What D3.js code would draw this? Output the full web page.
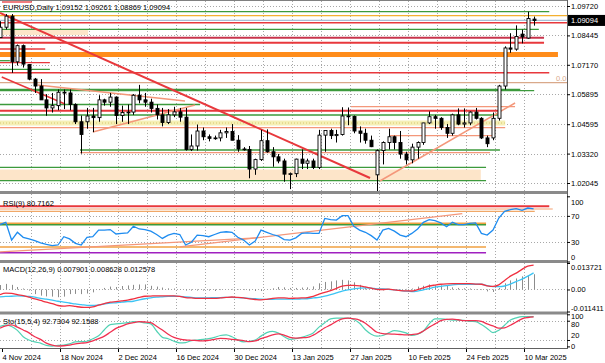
<!DOCTYPE html>
<html>
<head>
<meta charset="utf-8">
<script src="https://cdn.jsdelivr.net/npm/d3@7"></script>
<style>
  body { margin: 0; background: #fff; }
  text { font-family: "Liberation Sans", Arial, sans-serif; font-size: 7.5px; fill: #000; }
</style>
</head>
<body>
<div id="chart"></div>
<script>
// ---- data ----
const dates = ("2024-11-04 2024-11-05 2024-11-06 2024-11-07 2024-11-08 2024-11-11 2024-11-12 2024-11-13 2024-11-14 2024-11-15 " +
  "2024-11-18 2024-11-19 2024-11-20 2024-11-21 2024-11-22 2024-11-25 2024-11-26 2024-11-27 2024-11-28 2024-11-29 " +
  "2024-12-02 2024-12-03 2024-12-04 2024-12-05 2024-12-06 2024-12-09 2024-12-10 2024-12-11 2024-12-12 2024-12-13 " +
  "2024-12-16 2024-12-17 2024-12-18 2024-12-19 2024-12-20 2024-12-23 2024-12-24 2024-12-25 2024-12-26 2024-12-27 " +
  "2024-12-30 2024-12-31 2025-01-01 2025-01-02 2025-01-03 2025-01-06 2025-01-07 2025-01-08 2025-01-09 2025-01-10 " +
  "2025-01-13 2025-01-14 2025-01-15 2025-01-16 2025-01-17 2025-01-20 2025-01-21 2025-01-22 2025-01-23 2025-01-24 " +
  "2025-01-27 2025-01-28 2025-01-29 2025-01-30 2025-01-31 2025-02-03 2025-02-04 2025-02-05 2025-02-06 2025-02-07 " +
  "2025-02-10 2025-02-11 2025-02-12 2025-02-13 2025-02-14 2025-02-17 2025-02-18 2025-02-19 2025-02-20 2025-02-21 " +
  "2025-02-24 2025-02-25 2025-02-26 2025-02-27 2025-02-28 2025-03-03 2025-03-04 2025-03-05 2025-03-06 2025-03-07 " +
  "2025-03-10 2025-03-11 2025-03-12").split(" ");

const opens = [1.0835,1.0880,1.0928,1.0730,1.0800, 1.0718,1.0655,1.0625,1.0565,1.0530, 1.0540,1.0598,1.0595,1.0545,1.0470,
  1.0470,1.0495,1.0488,1.0565,1.0555, 1.0577,1.0497,1.0510,1.0512,1.0585, 1.0565,1.0555,1.0528,1.0500,1.0467,
  1.0500,1.0513,1.0490,1.0350,1.0365, 1.0430,1.0405,1.0398,1.0400,1.0422, 1.0428,1.0390,1.0352,1.0350,1.0265,
  1.0306,1.0388,1.0340,1.0318,1.0300, 1.0243,1.0245,1.0308,1.0290,1.0300, 1.0272,1.0412,1.0432,1.0410,1.0415,
  1.0495,1.0493,1.0430,1.0420,1.0390, 1.0240,1.0345,1.0380,1.0405,1.0380, 1.0330,1.0305,1.0360,1.0380,1.0465,
  1.0492,1.0485,1.0445,1.0420,1.0500, 1.0460,1.0465,1.0512,1.0485,1.0400, 1.0400,1.0485,1.0625,1.0790,1.0785,
  1.0850,1.0833,1.09152];
const highs = [1.0906,1.0937,1.0937,1.0805,1.0805, 1.0720,1.0660,1.0655,1.0590,1.0595, 1.0610,1.0610,1.0610,1.0550,1.0497,
  1.0530,1.0530,1.0585,1.0570,1.0595, 1.0580,1.0540,1.0545,1.0590,1.0630, 1.0595,1.0570,1.0545,1.0530,1.0525,
  1.0535,1.0530,1.0530,1.0415,1.0458, 1.0445,1.0415,1.0410,1.0435,1.0445, 1.0460,1.0412,1.0360,1.0365,1.0310,
  1.0435,1.0437,1.0360,1.0330,1.0310, 1.0250,1.0310,1.0350,1.0310,1.0310, 1.0435,1.0430,1.0440,1.0435,1.0533,
  1.0532,1.0497,1.0450,1.0440,1.0410, 1.0350,1.0385,1.0440,1.0410,1.0430, 1.0340,1.0375,1.0385,1.0465,1.0515,
  1.0500,1.0490,1.0460,1.0505,1.0528, 1.0528,1.0515,1.0530,1.0490,1.0410, 1.0510,1.0630,1.0797,1.0854,1.0888,
  1.0870,1.0947,1.09261];
const lows = [1.0835,1.0870,1.0682,1.0714,1.0705, 1.0650,1.0595,1.0565,1.0496,1.0510, 1.0520,1.0525,1.0520,1.0460,1.0332,
  1.0440,1.0425,1.0470,1.0540,1.0535, 1.0460,1.0470,1.0460,1.0500,1.0550, 1.0535,1.0510,1.0480,1.0450,1.0460,
  1.0490,1.0470,1.0345,1.0343,1.0345, 1.0390,1.0385,1.0392,1.0385,1.0400, 1.0390,1.0340,1.0345,1.0225,1.0240,
  1.0300,1.0336,1.0275,1.0290,1.0210, 1.0178,1.0230,1.0265,1.0265,1.0265, 1.0265,1.0340,1.0395,1.0380,1.0410,
  1.0455,1.0420,1.0380,1.0375,1.0360, 1.0141,1.0285,1.0350,1.0350,1.0310, 1.0285,1.0290,1.0310,1.0370,1.0460,
  1.0440,1.0435,1.0400,1.0410,1.0455, 1.0445,1.0455,1.0480,1.0395,1.0360, 1.0390,1.0475,1.0610,1.0769,1.0778,
  1.0810,1.0830,1.08869];
const closes = [1.0880,1.0928,1.0730,1.0800,1.0720, 1.0655,1.0625,1.0565,1.0530,1.0540, 1.0598,1.0595,1.0545,1.0470,1.0415,
  1.0495,1.0488,1.0565,1.0555,1.0577, 1.0497,1.0510,1.0512,1.0585,1.0565, 1.0555,1.0528,1.0500,1.0467,1.0500,
  1.0513,1.0490,1.0350,1.0365,1.0430, 1.0405,1.0398,1.0400,1.0422,1.0428, 1.0390,1.0352,1.0350,1.0265,1.0306,
  1.0388,1.0340,1.0318,1.0300,1.0243, 1.0245,1.0308,1.0290,1.0300,1.0272, 1.0412,1.0432,1.0410,1.0415,1.0495,
  1.0493,1.0430,1.0420,1.0390,1.0362, 1.0345,1.0380,1.0405,1.0380,1.0330, 1.0305,1.0360,1.0380,1.0465,1.0492,
  1.0485,1.0445,1.0420,1.0500,1.0460, 1.0465,1.0512,1.0485,1.0400,1.0375, 1.0485,1.0625,1.0790,1.0785,1.0840,
  1.0838,1.0918,1.09094];

const rsi = [56.7,60.1,32.9,44.8,37.1, 34.6,32.1,28.6,26.1,24.4, 25.3,38.0,34.6,27.8,25.3, 37.1,38.0,48.2,48.2,49.0,
  42.2,43.1,43.9,54.1,49.9, 49.0,46.5,41.4,35.4,40.5, 43.1,41.4,25.3,29.5,40.5, 39.7,38.0,41.4,44.8,45.6,
  44.8,37.1,32.9,25.3,31.2, 48.2,44.8,41.4,38.8,33.7, 32.9,36.3,43.1,43.9,43.1, 43.1,66.0,64.3,63.5,70.3,
  70.3,54.1,48.2,44.8,39.7, 32.9,48.2,50.7,46.5,40.5, 38.0,43.1,49.9,60.1,64.3, 62.6,59.2,53.3,60.1,56.7,
  56.7,58.4,59.2,43.1,40.5, 48.2,66.7,76.9,79.5,81.0, 78.5,82.0,80.7162];

const macdMain = [-0.0027,-0.0019,-0.0020,-0.0027,-0.0032, -0.0040,-0.0049,-0.0057,-0.0066,-0.0073, -0.0083,-0.0086,-0.0084,-0.0088,-0.0092,
  -0.0093,-0.0090,-0.0081,-0.0073,-0.0066, -0.0063,-0.0059,-0.0055,-0.0049,-0.0041, -0.0035,-0.0034,-0.0033,-0.0033,-0.0033,
  -0.0033,-0.0036,-0.0042,-0.0044,-0.0046, -0.0046,-0.0046,-0.0046,-0.0044,-0.0041, -0.0039,-0.0041,-0.0044,-0.0049,-0.0052,
  -0.0054,-0.0051,-0.0046,-0.0044,-0.0044, -0.0046,-0.0045,-0.0044,-0.0042,-0.0036, -0.0024,-0.0015,-0.0006,0.0006,0.0017,
  0.0021,0.0021,0.0019,0.0013,0.0007, 0.0001,0.0000,0.0002,-0.0002,-0.0006, -0.0007,-0.0008,-0.0001,0.0008,0.0018,
  0.0023,0.0027,0.0029,0.0030,0.0030, 0.0030,0.0030,0.0028,0.0027,0.0019, 0.0016,0.0024,0.0047,0.0069,0.0085,
  0.0104,0.0121,0.012578];
const macdSignal = [-0.0038,-0.0036,-0.0035,-0.0033,-0.0034, -0.0036,-0.0040,-0.0046,-0.0050,-0.0055, -0.0061,-0.0065,-0.0070,-0.0075,-0.0078,
  -0.0082,-0.0083,-0.0080,-0.0075,-0.0070, -0.0069,-0.0065,-0.0063,-0.0061,-0.0054, -0.0048,-0.0043,-0.0040,-0.0038,-0.0036,
  -0.0035,-0.0036,-0.0039,-0.0041,-0.0043, -0.0043,-0.0043,-0.0042,-0.0042,-0.0041, -0.0041,-0.0042,-0.0044,-0.0046,-0.0048,
  -0.0050,-0.0051,-0.0051,-0.0050,-0.0050, -0.0050,-0.0050,-0.0049,-0.0048,-0.0044, -0.0041,-0.0035,-0.0027,-0.0018,-0.0008,
  -0.0002,0.0003,0.0007,0.0008,0.0007, 0.0003,0.0003,0.0001,-0.0002,-0.0005, -0.0009,-0.0011,-0.0008,-0.0002,0.0005,
  0.0012,0.0016,0.0020,0.0024,0.0026, 0.0027,0.0027,0.0027,0.0027,0.0020, 0.0015,0.0015,0.0018,0.0028,0.0041,
  0.0054,0.0069,0.008628];
const macdHist = [0.0023,0.0029,0.0024,0.0013,0.0005, -0.0006,-0.0024,-0.0032,-0.0036,-0.0037, -0.0040,-0.0037,-0.0024,-0.0023,-0.0024,
  -0.0021,-0.0015,-0.0003,0.0008,0.0015, 0.0013,0.0018,0.0021,0.0024,0.0026, 0.0026,0.0019,0.0015,0.0010,0.0006,
  0.0005,0.0002,-0.0006,-0.0006,-0.0006, -0.0006,-0.0006,-0.0008,-0.0003,0.0000, 0.0003,-0.0002,-0.0003,-0.0006,-0.0008,
  -0.0008,0.0000,0.0006,0.0013,0.0011, 0.0008,0.0008,0.0010,0.0011,0.0016, 0.0032,0.0039,0.0042,0.0047,0.0050,
  0.0047,0.0037,0.0024,0.0010,0.0000, -0.0005,-0.0005,0.0003,0.0000,-0.0002, 0.0003,0.0005,0.0015,0.0019,0.0026,
  0.0021,0.0021,0.0018,0.0011,0.0008, 0.0006,0.0005,0.0002,-0.0003,-0.0010, -0.0013,0.0008,0.0032,0.0047,0.0057,
  0.0068,0.0075,0.007901];

const stochMain = [62,67,62,50,30, 20,14,10,3,1, 3,4,8,14,15, 16,24,33,52,68, 70,72,74,77,76, 73,70,48,28,24,
  16,11,12,18,20, 22,24,28,34,36, 30,20,14,16,20, 32,43,47,42,30, 22,24,28,34,42, 60,74,86,88,88,
  88,84,72,52,38, 32,34,42,49,47, 42,34,38,48,70, 86,86,84,82,82, 81,78,77,68,56, 43,50,66,82,89,
  93,93,92.7304];
const stochSignal = [57,64,67,60,51, 42,30,22,10,4, 1,2,4,8,10, 12,17,24,32,44, 56,63,70,74,77, 76,74,63,51,38,
  28,23,20,19,18, 17,19,22,25,24, 22,20,18,15,17, 24,30,36,39,35, 28,26,27,28,35, 46,58,67,78,86,
  88,86,82,72,58, 44,40,39,38,37, 36,37,39,48,60, 70,80,84,85,83, 80,80,80,78,70, 64,57,58,66,76,
  86,90,92.1588];

const priceTicks = [1.09720, 1.08445, 1.07170, 1.05895, 1.04595, 1.03320, 1.02045];
const rsiTicks = [100, 70, 30, 0];
const macdTicks = [0.013721, 0, -0.011411];
const macdTickLabels = ["0.013721", "0.00", "-0.011411"];
const stochTicks = [100, 80, 20, 0];

// horizontal drawing objects on the price chart (prices)
const levelPrices = [1.09473, 1.09299, 1.08996, 1.08710, 1.08345, 1.08129, 1.07855, 1.07348, 1.07261, 1.06975,
  1.06828, 1.06394, 1.06108, 1.06047, 1.05449, 1.05353, 1.05175, 1.04993, 1.04443, 1.04096, 1.03475, 1.03358,
  1.02725, 1.02144];
const bandPrices = [[1.08723, 1.08463], [1.07725, 1.07508], [1.04755, 1.04537], [1.02630, 1.02175]];
// trend lines: [bar index, price] pairs
const trendLines = [
  [[0, 1.09416], [63.8, 1.02261]],
  [[0.3, 1.06641], [11.2, 1.05470]],
  [[6.5, 1.06294], [31.9, 1.05600]],
  [[16.0, 1.04256], [33.6, 1.05427]],
  [[65.5, 1.02131], [88.8, 1.05514]]
];
const rsiLevels = [84.6, 80.6, 76.9, 58.7, 56.4, 22.4, 13.6];
const rsiTrendLines = [
  [[0, 14.7], [44.3, 36.3]],
  [[31, 22.4], [79.7, 73.4]]
];
const lastBar = "1.09094";
const chartTitle = "EURUSD,Daily  1.09152 1.09261 1.08869 1.09094";

// ---- layout ----
const width = 605, height = 363;
const plotRight = 567;

const green = "#3c9a3c", red = "#e8383c", maroon = "#c8344c", salmon = "#f4977a", tan = "#d9a98a";
const gridColor = "#a8a8a8";

// style/extent of each horizontal level (end given as bar index)
const levelStyle = [
  {c: green, w: 1.3, to: 94.7}, {c: "#f4b030", w: 1.3, to: 99}, {c: red, w: 1.6, to: 99}, {c: green, w: 1.3, to: 92.9},
  {c: maroon, w: 2, to: 93.8}, {c: red, w: 2, to: 93.8}, {c: red, w: 1.3, to: 7.8}, {c: green, w: 1.3, to: 1.7},
  {c: red, w: 1.3, to: 8.6}, {c: green, w: 1.3, to: 8.6},
  {c: red, w: 1.6, to: 94.7}, {c: tan, w: 1.3, to: 99}, {c: green, w: 1.3, to: 89.7}, {c: green, w: 1.3, to: 92.1},
  {c: green, w: 1.3, to: 34.5}, {c: salmon, w: 1.3, to: 88.8, from: 60.5}, {c: red, w: 2, to: 86.2}, {c: green, w: 1.3, to: 86.2},
  {c: salmon, w: 1.3, to: 87.1}, {c: salmon, w: 1.3, to: 85.3, from: 67.2}, {c: green, w: 1.3, to: 86.2, from: 13.8},
  {c: salmon, w: 1.3, to: 84.5, from: 13.8}, {c: green, w: 1.3, to: 83.8}, {c: green, w: 1.3, to: 83.8}
];
const bandStyle = [
  {c: "#fde5c9", to: 15.2}, {c: "#ff8c1a", to: 96.2}, {c: "#f5efb5", to: 87.1}, {c: "#fde5c9", to: 82.9}
];
const rsiLevelStyle = [
  {c: red, w: 2, to: 94.7}, {c: "#f8c0a0", w: 1.5, to: 95.3}, {c: "#f0a868", w: 1.3, to: 92.2},
  {c: "#f0a040", w: 1.5, to: 83.8}, {c: green, w: 1.5, to: 83.8}, {c: "#f0a040", w: 1.5, to: 83.8}, {c: "#a020c0", w: 1.5, to: 83.8}
];

const svg = d3.select("#chart").append("svg")
  .attr("width", width)
  .attr("height", height)
  .style("display", "block");

svg.append("rect").attr("width", width).attr("height", height).attr("fill", "#fff");

// x: one slot per daily bar
const x = d3.scalePoint().domain(dates).range([0, 533.6]);
const xi = d3.scaleLinear().domain([0, dates.length - 1]).range([0, 533.6]);
const parse = d3.timeParse("%Y-%m-%d");
const fmt = d3.timeFormat("%-d %b %Y");

// panels
const panels = {
  main:  {top: 1,   bottom: 191},
  rsi:   {top: 194, bottom: 260},
  macd:  {top: 263, bottom: 311.5},
  stoch: {top: 314, bottom: 348}
};

const y = d3.scaleLinear().domain([1.02045, 1.09720]).range([183, 6]);
const yR = d3.scaleLinear().domain([0, 100]).range([261.5, 196.3]);
const yM = d3.scaleLinear().domain([-0.011411, 0.013721]).range([311.5, 263]);
const yS = d3.scaleLinear().domain([0, 100]).range([346.4, 314.3]);

const defs = svg.append("defs");
Object.keys(panels).forEach(k => {
  defs.append("clipPath").attr("id", "clip-" + k)
    .append("rect")
      .attr("x", 0).attr("y", panels[k].top)
      .attr("width", plotRight).attr("height", panels[k].bottom - panels[k].top);
});

function panel(k) {
  return svg.append("g").attr("clip-path", "url(#clip-" + k + ")");
}

// weekly vertical grid lines (every 5 bars)
const weekly = dates.filter((d, i) => i % 5 === 0 && i > 0);
Object.keys(panels).forEach(k => {
  panel(k).selectAll("line.vgrid").data(weekly).join("line")
    .attr("x1", d => Math.round(x(d) + 2) + 0.5)
    .attr("x2", d => Math.round(x(d) + 2) + 0.5)
    .attr("y1", panels[k].top).attr("y2", panels[k].bottom)
    .attr("stroke", gridColor).attr("stroke-dasharray", "1,2");
});

function hGrid(g, scale, values) {
  g.selectAll(null).data(values).join("line")
    .attr("x1", 0).attr("x2", plotRight)
    .attr("y1", d => Math.round(scale(d)) + 0.5).attr("y2", d => Math.round(scale(d)) + 0.5)
    .attr("stroke", gridColor).attr("stroke-dasharray", "1,2");
}

// ---------- main price window ----------
const gMain = panel("main");
hGrid(gMain, y, priceTicks);

gMain.selectAll("rect.band").data(bandPrices).join("rect")
  .attr("x", 0)
  .attr("width", (d, i) => xi(bandStyle[i].to))
  .attr("y", d => y(d[0]))
  .attr("height", d => y(d[1]) - y(d[0]))
  .attr("fill", (d, i) => bandStyle[i].c);

// dotted line inside the yellow band
gMain.append("line")
  .attr("x1", 0).attr("x2", xi(bandStyle[2].to))
  .attr("y1", y(d3.mean(bandPrices[2]))).attr("y2", y(d3.mean(bandPrices[2])))
  .attr("stroke", "#d8c870").attr("stroke-dasharray", "1,2");

gMain.selectAll("line.level").data(levelPrices).join("line")
  .attr("x1", (d, i) => xi(levelStyle[i].from || -1))
  .attr("x2", (d, i) => Math.min(plotRight, xi(levelStyle[i].to)))
  .attr("y1", d => y(d)).attr("y2", d => y(d))
  .attr("stroke", (d, i) => levelStyle[i].c)
  .attr("stroke-width", (d, i) => levelStyle[i].w);

// bid line
gMain.append("line")
  .attr("x1", 0).attr("x2", plotRight)
  .attr("y1", y(+lastBar)).attr("y2", y(+lastBar))
  .attr("stroke", "#a9bfd6").attr("stroke-width", 1.3);

// short red mark at top-left
gMain.append("line")
  .attr("x1", 2).attr("x2", 32).attr("y1", 2).attr("y2", 2)
  .attr("stroke", red).attr("stroke-width", 1.3);

const trendColors = [red, red, salmon, salmon, salmon];
const trendWidths = [2, 1.5, 1.5, 1.5, 1.5];
gMain.selectAll("line.trend").data(trendLines).join("line")
  .attr("x1", d => xi(d[0][0])).attr("y1", d => y(d[0][1]))
  .attr("x2", d => xi(d[1][0])).attr("y2", d => y(d[1][1]))
  .attr("stroke", (d, i) => trendColors[i])
  .attr("stroke-width", (d, i) => trendWidths[i]);

// candles
const bars = dates.map((d, i) => ({date: d, o: opens[i], h: highs[i], l: lows[i], c: closes[i]}));
const cx = d => Math.round(x(d.date)) + 0.5;

gMain.selectAll("line.wick").data(bars).join("line")
  .attr("x1", cx).attr("x2", cx)
  .attr("y1", d => y(d.h)).attr("y2", d => y(d.l))
  .attr("stroke", "#000").attr("stroke-width", 1);

gMain.selectAll("rect.body").data(bars).join("rect")
  .attr("x", d => cx(d) - 1.5)
  .attr("width", 3)
  .attr("y", d => y(Math.max(d.o, d.c)))
  .attr("height", d => Math.max(0.8, Math.abs(y(d.o) - y(d.c))))
  .attr("fill", d => d.c >= d.o ? "#fff" : "#000")
  .attr("stroke", "#000").attr("stroke-width", 0.9);

svg.append("text").attr("x", 556).attr("y", 81).text("0.0").style("fill", tan);
svg.append("text").attr("x", 3).attr("y", 9.5).text(chartTitle);

// ---------- RSI window ----------
const gRsi = panel("rsi");
hGrid(gRsi, yR, [70, 30]);

gRsi.selectAll("line.level").data(rsiLevels).join("line")
  .attr("x1", 0).attr("x2", (d, i) => xi(rsiLevelStyle[i].to))
  .attr("y1", d => yR(d)).attr("y2", d => yR(d))
  .attr("stroke", (d, i) => rsiLevelStyle[i].c)
  .attr("stroke-width", (d, i) => rsiLevelStyle[i].w);

gRsi.selectAll("line.trend").data(rsiTrendLines).join("line")
  .attr("x1", d => xi(d[0][0])).attr("y1", d => yR(d[0][1]))
  .attr("x2", d => xi(d[1][0])).attr("y2", d => yR(d[1][1]))
  .attr("stroke", salmon).attr("stroke-width", 1.3);

gRsi.append("path")
  .datum(rsi)
  .attr("fill", "none")
  .attr("stroke", "#1e8cf0").attr("stroke-width", 1.3)
  .attr("d", d3.line().x((d, i) => x(dates[i])).y(d => yR(d)));

svg.append("text").attr("x", 3).attr("y", 206).text("RSI(9) " + rsi[rsi.length - 1].toFixed(4));

// ---------- MACD window ----------
const gMacd = panel("macd");
hGrid(gMacd, yM, [0]);

gMacd.selectAll("line.hist").data(macdHist).join("line")
  .attr("x1", (d, i) => Math.round(x(dates[i])) + 0.5)
  .attr("x2", (d, i) => Math.round(x(dates[i])) + 0.5)
  .attr("y1", yM(0)).attr("y2", d => yM(d))
  .attr("stroke", "#8c8c8c").attr("stroke-width", 1);

const macdLine = d3.line().x((d, i) => x(dates[i])).y(d => yM(d)).curve(d3.curveMonotoneX);
gMacd.append("path").datum(macdSignal)
  .attr("fill", "none").attr("stroke", "#3cc4f4").attr("stroke-width", 1.3)
  .attr("d", macdLine);
gMacd.append("path").datum(macdMain)
  .attr("fill", "none").attr("stroke", "#f03040").attr("stroke-width", 1.3)
  .attr("d", macdLine);

svg.append("text").attr("x", 3).attr("y", 272)
  .text("MACD(12,26,9) " + macdHist[macdHist.length - 1].toFixed(6) + " " +
        macdSignal[macdSignal.length - 1].toFixed(6) + " " + macdMain[macdMain.length - 1].toFixed(6));

// ---------- Stochastic window ----------
const gSto = panel("stoch");
hGrid(gSto, yS, [80, 20]);

const stoLine = d3.line().x((d, i) => x(dates[i])).y(d => yS(d)).curve(d3.curveMonotoneX);
gSto.append("path").datum(stochMain)
  .attr("fill", "none").attr("stroke", "#52d2b4").attr("stroke-width", 1.2)
  .attr("d", stoLine);
gSto.append("path").datum(stochSignal)
  .attr("fill", "none").attr("stroke", "#f03050").attr("stroke-width", 1.3)
  .attr("d", stoLine);

svg.append("text").attr("x", 3).attr("y", 323.5)
  .text("Sto(15,5,4) " + stochMain[stochMain.length - 1].toFixed(4) + " " + stochSignal[stochSignal.length - 1].toFixed(4));

// ---------- frames / separators ----------
svg.append("line").attr("x1", 0).attr("x2", plotRight).attr("y1", 0.5).attr("y2", 0.5).attr("stroke", "#808080");
[191, 260, 311.5].forEach(v => {
  svg.append("rect").attr("x", 0).attr("y", v).attr("width", plotRight + 1).attr("height", 3).attr("fill", "#8a8a8a");
});
svg.append("line").attr("x1", 0).attr("x2", plotRight).attr("y1", 348.5).attr("y2", 348.5).attr("stroke", "#606060");
svg.append("line").attr("x1", plotRight + 0.5).attr("x2", plotRight + 0.5).attr("y1", 0).attr("y2", 349).attr("stroke", "#606060");

// ---------- axes ----------
function styleAxis(g) {
  g.select(".domain").remove();
  g.selectAll(".tick line").attr("stroke", "#000");
  g.selectAll(".tick text").attr("x", 4).style("text-anchor", "start")
    .style("font-family", "'Liberation Sans', Arial, sans-serif").style("font-size", "7.5px").attr("fill", "#000");
}

svg.append("g").attr("transform", `translate(${plotRight},0)`)
  .call(d3.axisRight(y).tickValues(priceTicks).tickFormat(d3.format(".5f")).tickSize(3))
  .call(styleAxis);

const gAxR = svg.append("g").attr("transform", `translate(${plotRight},0)`)
  .call(d3.axisRight(yR).tickValues(rsiTicks).tickSize(3))
  .call(styleAxis);
gAxR.selectAll(".tick text").attr("dy", d => d === 100 ? "1.05em" : d === 0 ? "-0.3em" : "0.32em");

const gAxM = svg.append("g").attr("transform", `translate(${plotRight},0)`)
  .call(d3.axisRight(yM).tickValues(macdTicks).tickFormat((d, i) => macdTickLabels[i]).tickSize(3))
  .call(styleAxis);
gAxM.selectAll(".tick text").attr("dy", (d, i) => i === 0 ? "0.9em" : i === 2 ? "-0.2em" : "0.32em");

// stochastic labels sit tightly in a small window; nudge them apart a little
const gAxS = svg.append("g").attr("transform", `translate(${plotRight},0)`)
  .call(d3.axisRight(yS).tickValues(stochTicks).tickSize(3))
  .call(styleAxis);
gAxS.selectAll(".tick text").attr("dy", d => d === 100 ? "0.6em" : d === 80 ? "0.75em" : d === 20 ? "-0.35em" : "0.22em");

// current price box
svg.append("rect").attr("x", plotRight + 1).attr("y", y(+lastBar) - 5.5).attr("width", 38).attr("height", 11).attr("fill", "#000");
svg.append("text").attr("x", plotRight + 4).attr("y", y(+lastBar) + 2.8).text(lastBar).style("fill", "#fff");

// date axis
const labelDates = dates.filter((d, i) => i % 10 === 0);
const gx = svg.append("g").attr("transform", "translate(0,349)")
  .call(d3.axisBottom(x).tickValues(labelDates).tickFormat(d => fmt(parse(d))).tickSize(3));
gx.select(".domain").remove();
gx.selectAll(".tick").attr("transform", d => `translate(${Math.round(x(d) + 2) + 0.5},0)`);
gx.selectAll(".tick line").attr("stroke", "#000");
gx.selectAll(".tick text").attr("x", 0).attr("y", 6).style("text-anchor", "start")
  .style("font-family", "'Liberation Sans', Arial, sans-serif").style("font-size", "7.5px").attr("fill", "#000");
</script>
</body>
</html>
